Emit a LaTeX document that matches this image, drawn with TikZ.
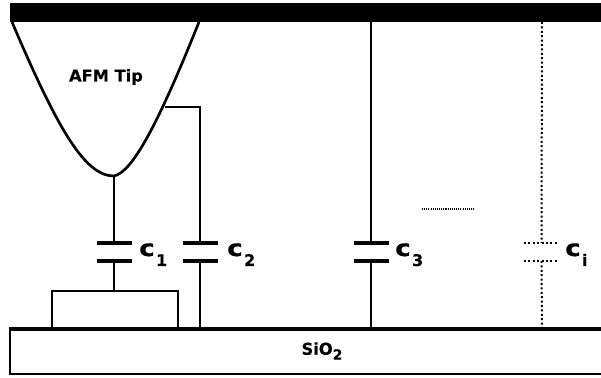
\documentclass[tikz,border=0pt]{standalone}
\usepackage{fontspec}
\setmainfont{DejaVu Sans}
\newfontface\capfont{DejaVu Sans Bold}[FakeStretch=1.15,FakeBold=0.6,Scale=1]
\newfontface\tipfont{DejaVu Sans Bold}[FakeBold=0.4]
\newcommand{\capname}[2]{\fontsize{17}{17}\capfont #1\hspace{1pt}\raisebox{-7.5pt}{\fontsize{12}{12}\tipfont #2}}
\newcommand{\capplates}[3]{%
  \coordinate (top#1) at (#2,243);
  \coordinate (bot#1) at (#2,261);
  \draw[plate,#3] (#2-17.5,243) -- (#2+17.5,243);
  \draw[plate,#3] (#2-17.5,261) -- (#2+17.5,261);}
\tikzset{
  wire/.style={line width=1.75pt},
  plate/.style={line width=2.8pt},
  txt/.style={font=\fontsize{12.2}{14}\tipfont,inner sep=0pt},
  lbl/.style={anchor=base west,inner sep=0pt},
  dots/.style={line width=1.5pt,dash pattern=on 1.5pt off 1.8pt}
}
\begin{document}
\begin{tikzpicture}[x=0.75pt,y=-0.75pt]
    \useasboundingbox (0,0) rectangle (601,378);
    % ---- cantilever and tip ----
    \fill (10,3) rectangle (601,22);
    \coordinate (apex) at (114,176);
    \coordinate (side) at (165,107);
    \coordinate (corner) at (200,107);
    \draw[line width=2pt] (12,22) .. controls (58,130) and (85,176) .. (apex)
      .. controls (132,172) and (157,127) .. (199,22);
    \node[txt] (tiplabel) at (106,77) {AFM Tip};
    % ---- substrate ----
    \coordinate (padtop) at (114,291);
    \coordinate (gnd2) at (200,329);
    \coordinate (gnd3) at (371,329);
    \coordinate (gndi) at (542,329);
    \coordinate (roof3) at (371,22);
    \coordinate (roofi) at (542,22);
    \draw[wire] (52,329) |- (178,291) -- (178,329);
    \draw[line width=1.8pt] (601,374) -| (10,329);
    \draw[line width=3.2pt] (8.9,329) -- (601,329);
    \node[txt] (sio) at (322,351) {SiO\raisebox{-0.55ex}{\fontsize{10.5}{11}\tipfont 2}};
    % ---- capacitors ----
    \capplates{1}{114}{}
    \capplates{2}{200}{}
    \capplates{3}{371}{}
    \capplates{i}{541.5}{dots}
    \draw[wire] (apex) -- (top1);
    \draw[wire] (bot1) -- (padtop);
    \draw[wire] (side) -- (corner) -- (top2);
    \draw[wire] (bot2) -- (gnd2);
    \draw[wire] (roof3) -- (top3);
    \draw[wire] (bot3) -- (gnd3);
    \draw[dots] (roofi) -- (topi);
    \draw[dots] (boti) -- (gndi);
    \draw[line width=0.9pt,dash pattern=on 0.8pt off 0.8pt] (422,209) -- (474,209);
    \node[lbl] (c1) at (139,256) {\capname{c}{1}};
    \node[lbl] (c2) at (227,256) {\capname{c}{2}};
    \node[lbl] (c3) at (395,256) {\capname{c}{3}};
    \node[lbl] (ci) at (565,256) {\capname{c}{i}};
\end{tikzpicture}
\end{document}
